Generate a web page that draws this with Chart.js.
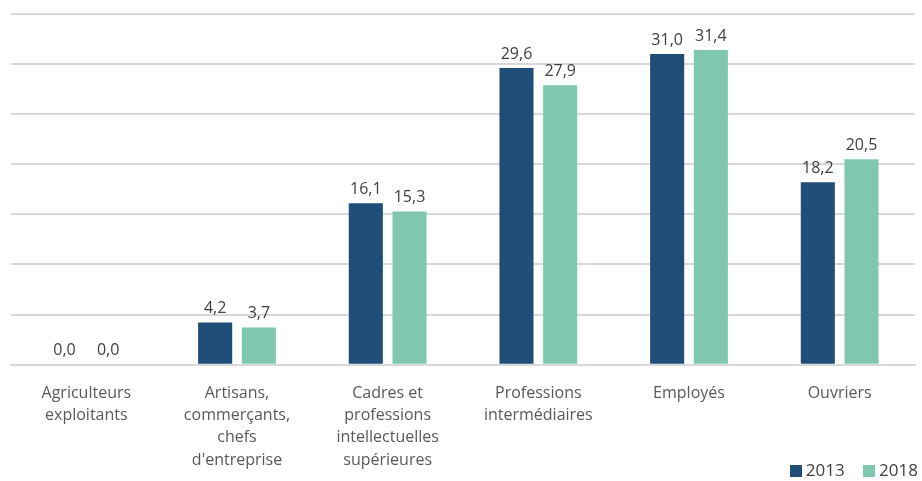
<!DOCTYPE html>
<html>
<head>
<meta charset="utf-8">
<script src="https://cdn.jsdelivr.net/npm/chart.js@4"></script>
<style>
  html, body { margin: 0; padding: 0; background: #fff; }
  #wrap { position: relative; width: 922px; height: 481px; }
  #legend { position: absolute; right: 4px; bottom: 0px; font: 17px "Open Sans", sans-serif; color: #404040; }
  #legend span.box { display: inline-block; width: 12px; height: 12px; margin-right: 4px; vertical-align: -1px; }
</style>
</head>
<body>
<div id="wrap">
  <canvas id="chart" width="922" height="481"></canvas>
  <div id="legend">
    <span class="box" style="background:#1f4e79"></span>2013
    <span class="box" style="background:#7fc8af;margin-left:14px"></span>2018
  </div>
</div>
<script>
// Chart data
const categories = [
    ["Agriculteurs", "exploitants"],
    ["Artisans,", "commerçants,", "chefs", "d'entreprise"],
    ["Cadres et", "professions", "intellectuelles", "supérieures"],
    ["Professions", "intermédiaires"],
    ["Employés"],
    ["Ouvriers"]
];
const values2013 = [0.0, 4.2, 16.1, 29.6, 31.0, 18.2];
const values2018 = [0.0, 3.7, 15.3, 27.9, 31.4, 20.5];

// Value labels above bars
const valueLabels = {
    id: "valueLabels",
    afterDatasetsDraw(chart) {
        const ctx = chart.ctx;
        ctx.save();
        ctx.font = '16px "Open Sans", sans-serif';
        ctx.fillStyle = "#404040";
        ctx.textAlign = "center";
        ctx.textBaseline = "bottom";
        chart.data.datasets.forEach((ds, di) => {
            chart.getDatasetMeta(di).data.forEach((bar, i) => {
                ctx.fillText(ds.data[i].toFixed(1).replace(".", ","), bar.x, bar.y - 6);
            });
        });
        ctx.restore();
    }
};

const ctx = document.getElementById("chart").getContext("2d");
new Chart(ctx, {
    type: "bar",
    data: {
        labels: categories,
        datasets: [
            { label: "2013", data: values2013, backgroundColor: "#1f4e79" },
            { label: "2018", data: values2018, backgroundColor: "#7fc8af" }
        ]
    },
    options: {
        responsive: false,
        animation: false,
        layout: { padding: { top: 14, left: 11, right: 7, bottom: 0 } },
        datasets: { bar: { categoryPercentage: 0.58, barPercentage: 0.78 } },
        plugins: { legend: { display: false }, tooltip: { enabled: false } },
        scales: {
            x: {
                grid: { display: false },
                border: { color: "#d9d9d9", width: 2 },
                ticks: {
                    color: "#595959",
                    font: { family: "Open Sans", size: 16, lineHeight: 1.38 },
                    maxRotation: 0,
                    autoSkip: false,
                    padding: 10
                }
            },
            y: {
                min: 0,
                max: 35,
                ticks: { display: false, stepSize: 5 },
                border: { display: false },
                grid: { color: "#d9d9d9", lineWidth: 2, drawTicks: false }
            }
        }
    },
    plugins: [valueLabels]
});
</script>
</body>
</html>
